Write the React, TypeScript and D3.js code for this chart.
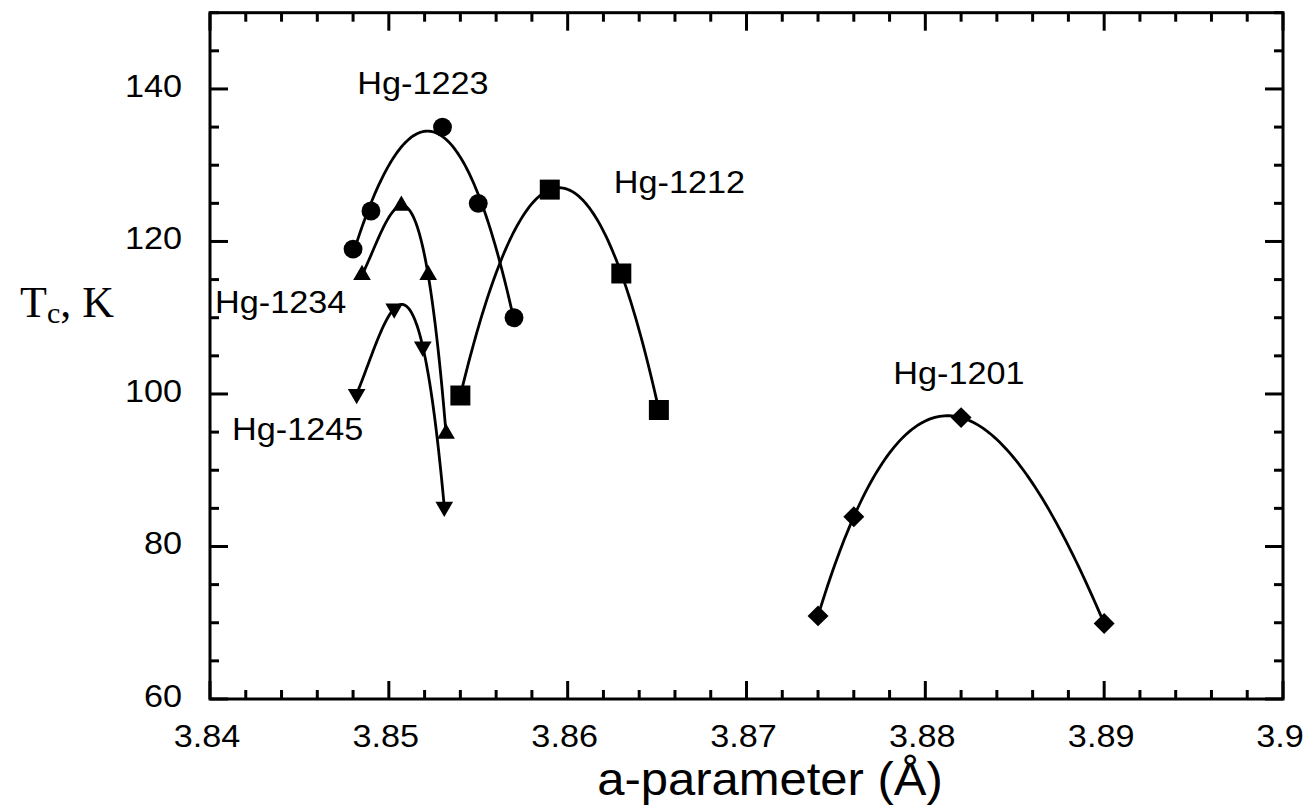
import React from 'react';
import * as d3 from 'd3';

const W = 1306;
const H = 810;

// Axis ranges & ticks
const xDomain = [3.84, 3.9];
const yDomain = [60, 150];
const xMajorTicks = [3.84, 3.85, 3.86, 3.87, 3.88, 3.89, 3.9];
const xTickLabels = ['3.84', '3.85', '3.86', '3.87', '3.88', '3.89', '3.9'];
const yMajorTicks = [60, 80, 100, 120, 140];
const yTickLabels = ['60', '80', '100', '120', '140'];

// Series data (a-parameter Å, Tc K)
const hg1223X = [3.848, 3.849, 3.853, 3.855, 3.857];
const hg1223Y = [119, 124, 135, 125, 110];

const hg1234X = [3.8485, 3.8507, 3.8522, 3.8532];
const hg1234Y = [115.6, 124.7, 115.6, 94.8];

const hg1245X = [3.8482, 3.8503, 3.8519, 3.8531];
const hg1245Y = [100, 111.2, 106.2, 85.2];

const hg1212X = [3.854, 3.859, 3.863, 3.8651];
const hg1212Y = [99.8, 126.8, 115.8, 97.9];

const hg1201X = [3.874, 3.876, 3.882, 3.89];
const hg1201Y = [70.9, 83.9, 96.9, 69.9];

const seriesNames = ['Hg-1223', 'Hg-1234', 'Hg-1245', 'Hg-1212', 'Hg-1201'];
const seriesXs = [hg1223X, hg1234X, hg1245X, hg1212X, hg1201X];
const seriesYs = [hg1223Y, hg1234Y, hg1245Y, hg1212Y, hg1201Y];
const seriesSymbols = ['circle', 'triangle', 'triangleDown', 'square', 'diamond'];

// Label anchors in data coordinates
const labelX = [3.84824, 3.84028, 3.84123, 3.86258, 3.87821];
const labelY = [139.3, 110.6, 93.9, 126.3, 101.3];

const M = { left: 210, right: 1283, top: 12.7, bottom: 699 };
const FONT = '"Liberation Sans", Arial, Helvetica, sans-serif';
const STRETCH = 1.07;

// least-squares polynomial fit (trend curve through the read points)
function polyFit(xs: number[], ys: number[], deg: number) {
  const mx = d3.mean(xs)!;
  const s = 0.001;
  const us = xs.map((v) => (v - mx) / s);
  const n = deg + 1;
  const A: number[][] = [];
  for (let r = 0; r < n; r++) {
    const row: number[] = [];
    for (let c = 0; c < n; c++) row.push(d3.sum(us, (u) => Math.pow(u, r + c)));
    row.push(d3.sum(us, (u, i) => Math.pow(u, r) * ys[i]));
    A.push(row);
  }
  for (let i = 0; i < n; i++) {
    let p = i;
    for (let k = i + 1; k < n; k++) if (Math.abs(A[k][i]) > Math.abs(A[p][i])) p = k;
    [A[i], A[p]] = [A[p], A[i]];
    for (let k = i + 1; k < n; k++) {
      const f = A[k][i] / A[i][i];
      for (let c = i; c <= n; c++) A[k][c] -= f * A[i][c];
    }
  }
  const coef = new Array(n).fill(0);
  for (let i = n - 1; i >= 0; i--) {
    let v = A[i][n];
    for (let c = i + 1; c < n; c++) v -= A[i][c] * coef[c];
    coef[i] = v / A[i][i];
  }
  return (x: number) => {
    const u = (x - mx) / s;
    return coef.reduce((acc, c, k) => acc + c * Math.pow(u, k), 0);
  };
}

export default function App() {
  const x = d3.scaleLinear().domain(xDomain).range([M.left, M.right]);
  const y = d3.scaleLinear().domain(yDomain).range([M.bottom, M.top]);

  const xMinor = d3.range(0, 31).map((i) => 3.84 + i * 0.002);
  const yMinor = d3.range(0, 19).map((i) => 60 + i * 5);

  const line = d3
    .line<[number, number]>()
    .x((d) => x(d[0]))
    .y((d) => y(d[1]));

  const symbolPath = (kind: string) => {
    switch (kind) {
      case 'circle':
        return d3.symbol().type(d3.symbolCircle).size(280)()!;
      case 'triangle':
      case 'triangleDown':
        return d3.symbol().type(d3.symbolTriangle).size(135)()!;
      case 'square':
        return d3.symbol().type(d3.symbolSquare).size(400)()!;
      case 'diamond':
        return d3.symbol().type(d3.symbolSquare).size(220)()!;
    }
    return '';
  };
  const symbolRot = (kind: string) =>
    kind === 'triangleDown' ? 180 : kind === 'diamond' ? 45 : 0;

  const isMajorX = (v: number) => xMajorTicks.some((t) => Math.abs(t - v) < 1e-6);
  const isMajorY = (v: number) => yMajorTicks.some((t) => Math.abs(t - v) < 1e-6);

  return (
    <svg
      width={W}
      height={H}
      style={{ position: 'absolute', left: 0, top: 0, background: '#fff' }}
    >
      <rect x={0} y={0} width={W} height={H} fill="#fff" />
      {/* fitted curves */}
      {seriesXs.map((xs, i) => {
        const f = polyFit(xs, seriesYs[i], 3);
        const x0 = d3.min(xs)!;
        const x1 = d3.max(xs)!;
        const pts = d3.range(0, 121).map((k) => {
          const xv = x0 + ((x1 - x0) * k) / 120;
          return [xv, f(xv)] as [number, number];
        });
        return (
          <path
            key={'c' + i}
            d={line(pts) || ''}
            fill="none"
            stroke="#000"
            strokeWidth={2.8}
          />
        );
      })}
      {/* markers */}
      {seriesXs.map((xs, i) =>
        xs.map((v, j) => (
          <path
            key={'m' + i + '-' + j}
            d={symbolPath(seriesSymbols[i])}
            transform={`translate(${x(v)},${y(seriesYs[i][j])}) rotate(${symbolRot(seriesSymbols[i])})`}
            fill="#000"
          />
        ))
      )}
      {/* series labels */}
      {seriesNames.map((n, i) => (
        <text
          key={'l' + i}
          transform={`translate(${x(labelX[i])},${y(labelY[i])}) scale(${STRETCH},1)`}
          fontFamily={FONT}
          fontSize={32}
          fill="#000"
        >
          {n}
        </text>
      ))}
      {/* frame */}
      <rect
        x={M.left}
        y={M.top}
        width={M.right - M.left}
        height={M.bottom - M.top}
        fill="none"
        stroke="#000"
        strokeWidth={3}
      />
      {/* x ticks bottom and top */}
      {xMinor.map((v, i) => {
        const len = isMajorX(v) ? 18 : 9;
        return (
          <g key={'xt' + i}>
            <line x1={x(v)} x2={x(v)} y1={M.bottom} y2={M.bottom - len} stroke="#000" strokeWidth={3} />
            <line x1={x(v)} x2={x(v)} y1={M.top} y2={M.top + len} stroke="#000" strokeWidth={3} />
          </g>
        );
      })}
      {/* y ticks left and right */}
      {yMinor.map((v, i) => {
        const len = isMajorY(v) ? 18 : 9;
        return (
          <g key={'yt' + i}>
            <line x1={M.left} x2={M.left + len} y1={y(v)} y2={y(v)} stroke="#000" strokeWidth={3} />
            <line x1={M.right} x2={M.right - len} y1={y(v)} y2={y(v)} stroke="#000" strokeWidth={3} />
          </g>
        );
      })}
      {/* x tick labels */}
      {xMajorTicks.map((v, i) => (
        <text
          key={'xl' + i}
          transform={`translate(${x(v) - 3},747) scale(${STRETCH},1)`}
          textAnchor="middle"
          fontFamily={FONT}
          fontSize={32}
          fill="#000"
        >
          {xTickLabels[i]}
        </text>
      ))}
      {/* y tick labels */}
      {yMajorTicks.map((v, i) => (
        <text
          key={'yl' + i}
          transform={`translate(182,${y(v) + 8}) scale(${STRETCH},1)`}
          textAnchor="end"
          fontFamily={FONT}
          fontSize={32}
          fill="#000"
        >
          {yTickLabels[i]}
        </text>
      ))}
      {/* axis titles */}
      <text
        transform={`translate(770,795) scale(1.065,1)`}
        textAnchor="middle"
        fontFamily={FONT}
        fontSize={46}
        fill="#000"
      >
        a-parameter (Å)
      </text>
      <text
        x={20}
        y={317}
        fontFamily='"Liberation Serif", "Times New Roman", serif'
        fontSize={44}
        fill="#000"
      >
        T<tspan fontSize={30} dy={6}>c</tspan>
        <tspan dy={-6}>, K</tspan>
      </text>
    </svg>
  );
}
